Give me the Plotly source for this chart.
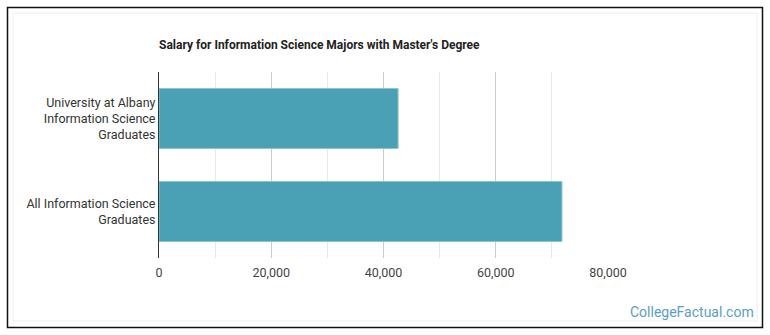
import plotly.graph_objects as go

categories = ["University at Albany<br>Information Science<br>Graduates",
              "All Information Science<br>Graduates"]
values = [42600, 71800]
tick_vals = [0, 20000, 40000, 60000, 80000]
tick_text = ["0", "20,000", "40,000", "60,000", "80,000"]

L, R, T, B = 159, 608, 72, 258
W, H = 770, 335

def px(x):
    return (x - L) / (R - L)

def py(y):
    return (B - y) / (B - T)

fig = go.Figure()
fig.add_trace(go.Bar(
    y=categories, x=values, orientation="h",
    marker=dict(color="#4aa0b5", line=dict(color="#8cc4d2", width=1)),
    width=0.645, hoverinfo="x+y",
))

fig.update_layout(
    width=W, height=H,
    margin=dict(l=L, r=W - R, t=T, b=H - B, pad=0),
    paper_bgcolor="white", plot_bgcolor="white",
    font=dict(family="Roboto, Arial, sans-serif", size=12, color="#444"),
    showlegend=False,
    title=dict(text="<b>Salary for Information Science Majors with Master's Degree</b>",
               x=px(159), xanchor="left", xref="paper",
               y=1 - 45 / H, yanchor="middle",
               font=dict(size=12, color="#222")),
    xaxis=dict(range=[0, 80000], tickvals=tick_vals, ticktext=tick_text,
               showgrid=True, gridcolor="#cccccc", gridwidth=1,
               minor=dict(dtick=10000, showgrid=True, gridcolor="#e8e8e8", gridwidth=1),
               zeroline=False, showline=False, ticks="",
               tickfont=dict(size=12.5, color="#444"), ticklabelstandoff=5),
    yaxis=dict(autorange="reversed", showline=True, linecolor="#333", linewidth=1,
               showgrid=False, ticks="", tickfont=dict(size=12.5, color="#333"),
               ticklabelstandoff=0),
    bargap=0.355,
)

# outer border
fig.add_shape(type="rect", xref="paper", yref="paper",
              x0=px(7.5), x1=px(762.5), y0=py(327.5), y1=py(7.5),
              line=dict(color="#111", width=1.5), layer="above")
# faint inner border
fig.add_shape(type="rect", xref="paper", yref="paper",
              x0=px(13), x1=px(757), y0=py(321), y1=py(13),
              line=dict(color="#eeeeee", width=1), layer="below")

fig.add_annotation(text="CollegeFactual.com", xref="paper", yref="paper",
                   x=px(756), y=py(312), xanchor="right", yanchor="middle",
                   showarrow=False, font=dict(size=14, color="#5b9ec4"))

fig.write_html("out.html")
